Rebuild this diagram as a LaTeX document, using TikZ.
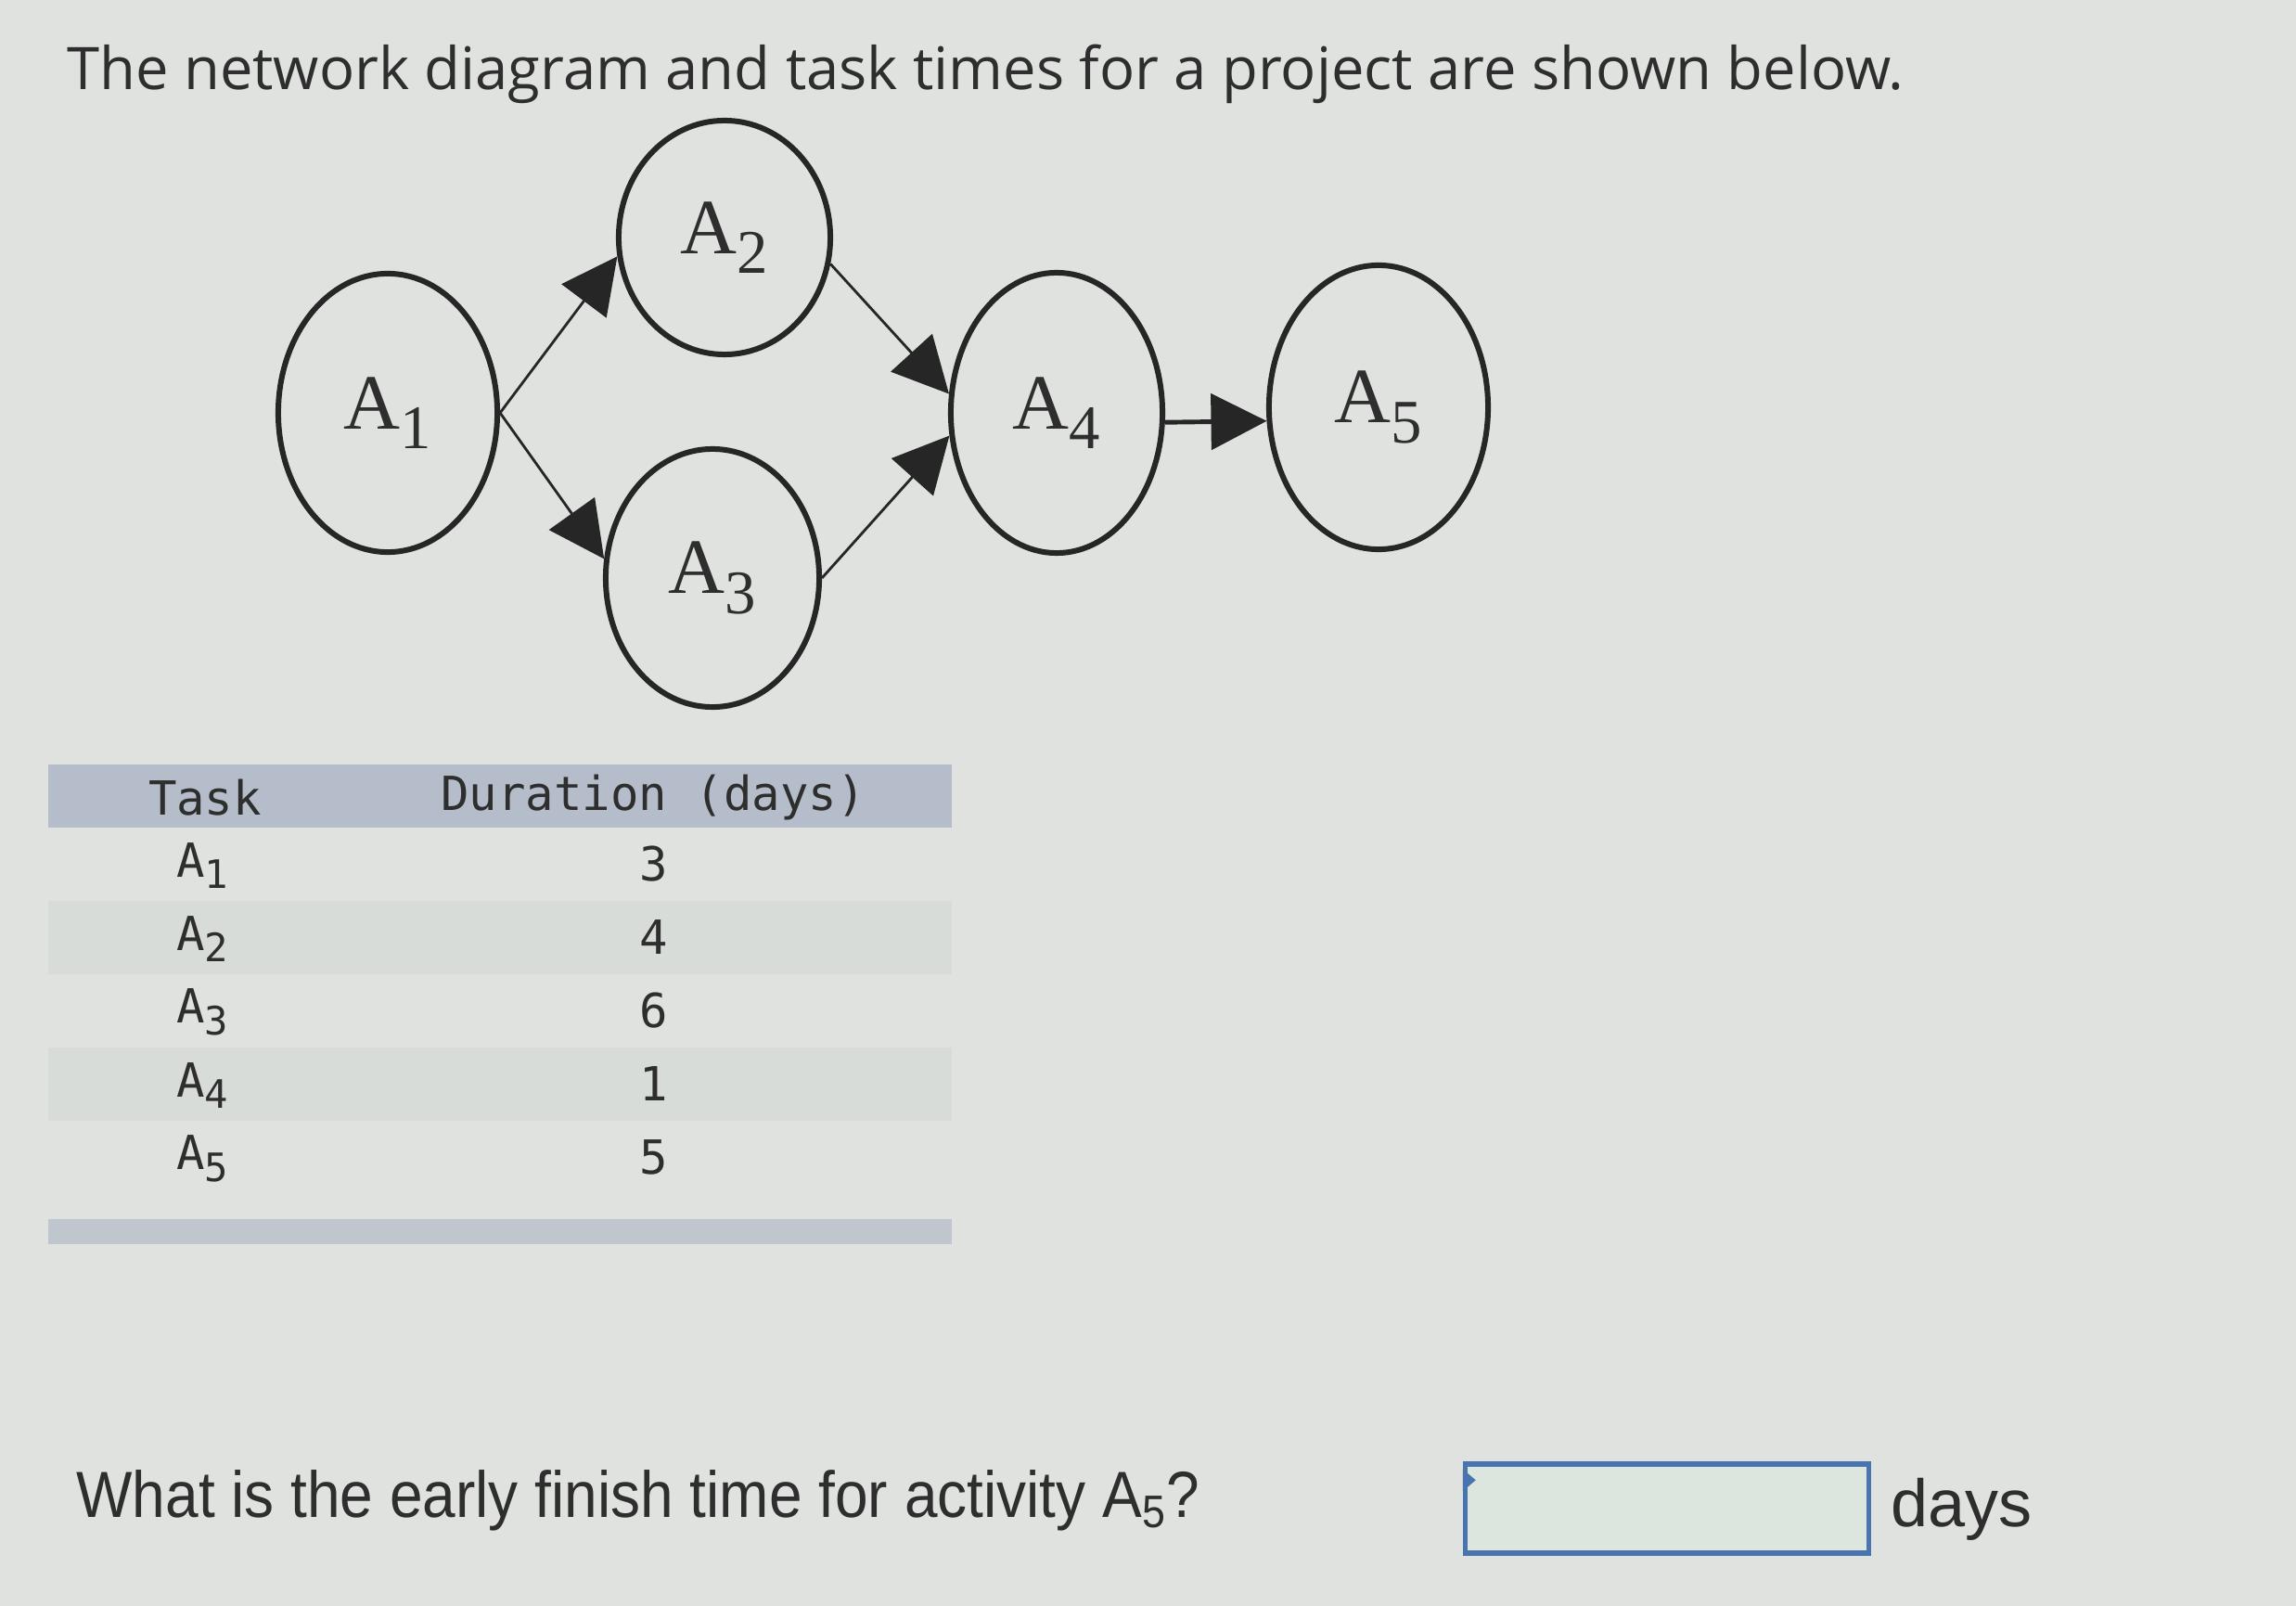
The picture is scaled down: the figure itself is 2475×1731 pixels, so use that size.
\documentclass[tikz,border=0pt]{standalone}
\usepackage{fontspec}
\setmainfont{Liberation Serif}
\newfontfamily\titlefont{Open Sans}
\newfontfamily\qfont{Liberation Sans}
\newfontfamily\tabfont{DejaVu Sans Mono}
\usetikzlibrary{shapes.geometric,arrows.meta}

\definecolor{pagebg}{HTML}{DFE2DE}
\definecolor{headbg}{HTML}{B4BDC9}
\definecolor{rowbg}{HTML}{D8DCD9}
\definecolor{boxline}{HTML}{4A74B0}
\definecolor{boxfill}{HTML}{DCE6DE}
\definecolor{inktext}{HTML}{2E2E2E}

\newcommand{\actlabel}[1]{A\raisebox{-0.55ex}{\fontsize{19}{19}\selectfont #1}}
\newcommand{\tabsub}[1]{\raisebox{-0.45ex}{\fontsize{12}{12}\selectfont #1}}

\tikzset{
  activity/.style={draw=black!85, line width=1.7pt, ellipse, inner sep=0pt,
    font=\fontsize{24}{24}\selectfont, text=inktext},
  link/.style={draw=black!85, line width=0.8pt, -{Triangle[length=0.6cm,width=0.6cm]}},
  tabtext/.style={font=\tabfont\fontsize{14.4}{16}\selectfont, text=inktext},
}

\begin{document}
\begin{tikzpicture}[x=0.01cm,y=-0.01cm]

% --- Page ---
\fill[pagebg] (0,0) rectangle (2475,1731);
\useasboundingbox (0,0) rectangle (2475,1731);

% --- Title ---
\node[anchor=west, text=inktext, font=\titlefont\fontsize{18}{21}\selectfont] (title) at (60,80)
  {The network diagram and task times for a project are shown below.};

% --- Activities ---
\node[activity, minimum width=2.36cm, minimum height=3.00cm] (a1) at (418,445) {\actlabel{1}};
\node[activity, minimum width=2.28cm, minimum height=2.52cm] (a2) at (781,256) {\actlabel{2}};
\node[activity, minimum width=2.30cm, minimum height=2.78cm] (a3) at (768,623) {\actlabel{3}};
\node[activity, minimum width=2.28cm, minimum height=3.02cm] (a4) at (1139,445) {\actlabel{4}};
\node[activity, minimum width=2.36cm, minimum height=3.06cm] (a5) at (1486,439) {\actlabel{5}};

% --- Precedence links ---
\draw[link] (a1.east) -- (a2.190);
\draw[link] (a1.east) -- (a3.170);
\draw[link] (a2.-14) -- (a4.170);
\draw[link] (a3.east) -- (a4.192);
\draw[link, line width=1.4pt] (a4.-5) -- (a5.187);

% --- Task table ---
\fill[headbg] (52,824) rectangle (1026,892);
\foreach \i in {2,4}
  \fill[rowbg] (52,{892+(\i-1)*79}) rectangle (1026,{892+\i*79});
\fill[headbg!75!pagebg] (52,1314) rectangle (1026,1341);

\node[tabtext] (taskhead) at (221,860) {Task};
\node[tabtext] (durhead) at (704,860) {Duration (days)};
\foreach \i/\d in {1/3,2/4,3/6,4/1,5/5} {
  \node[tabtext] (task\i) at (218,{933+(\i-1)*79}) {A\tabsub{\i}};
  \node[tabtext] (dur\i) at (705,{931+(\i-1)*79}) {\d};
}

% --- Question ---
\node[anchor=west, text=inktext, font=\qfont\fontsize{20}{24}\selectfont] (question) at (70,1617)
  {\scalebox{0.91}[1]{What is the early finish time for activity A\textsubscript{5}?}};
\node[draw=boxline, fill=boxfill, line width=1.5pt, minimum width=4.35cm, minimum height=0.96cm] (answer) at (1797,1626) {};
\fill[boxline] (answer.north west) ++(0,8) -- ++(14,12) -- ++(-14,12) -- cycle;
\node[anchor=west, text=inktext, font=\qfont\fontsize{20.5}{24}\selectfont] (unit) at (2026,1627) {days};

\end{tikzpicture}
\end{document}
